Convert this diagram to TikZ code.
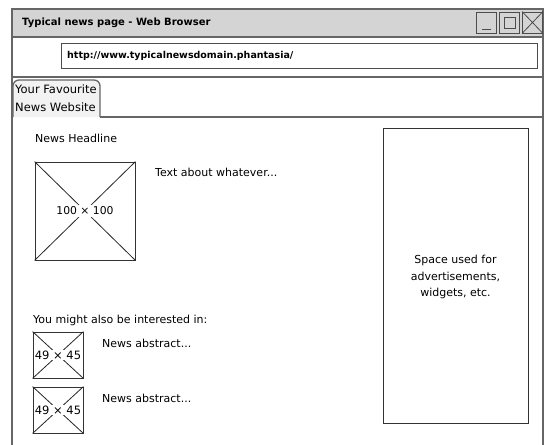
\documentclass[tikz,border=0pt]{standalone}
\usepackage{fontspec}
\setmainfont{DejaVu Sans}
\begin{document}
\begin{tikzpicture}[x=1pt,y=-1pt,
  frame/.style={draw=black!60, line width=1.3pt},
  box/.style={draw=black!80, line width=0.9pt},
  cross/.style={draw=black!85, line width=0.8pt},
  txt/.style={anchor=west, inner sep=0pt, font=\fontsize{11}{13}\selectfont},
  btn/.style={draw=black!70, line width=0.9pt, minimum width=20pt, minimum height=21pt, inner sep=0pt}]
\useasboundingbox (0,0) rectangle (547,445);
\fill[white] (0,0) rectangle (547,445);
% title bar
\fill[black!17] (12,9) rectangle (543,37);
\draw[frame] (12,445) -- (12,9) -- (543,9) -- (543,445);
\draw[frame] (12,37) -- (543,37);
\node[txt, font=\fontsize{10}{12}\bfseries] (title) at (22,23) {Typical news page - Web Browser};
% window buttons
\node[btn] (bmin) at (486.5,22.5) {};
\node[btn] (bmax) at (509.5,22.5) {};
\node[btn] (bclose) at (532.5,22.5) {};
\draw[black!70, line width=1pt] ([shift={(6pt,4pt)}]bmin.south west) -- ([shift={(-6pt,4pt)}]bmin.south east);
\node[draw=black!70, line width=0.9pt, minimum width=11pt, minimum height=11pt, inner sep=0pt] (bmaxin) at (bmax.center) {};
\draw[black!70, line width=0.8pt] (bclose.north west) -- (bclose.south east);
\draw[black!70, line width=0.8pt] (bclose.north east) -- (bclose.south west);
% url bar
\node[draw=black!70, line width=1pt, minimum width=476pt, minimum height=25pt, inner sep=0pt] (url) at (299,55.5) {};
\node[txt, font=\fontsize{9.5}{11}\bfseries] (urltext) at (67,55.5) {http://www.typicalnewsdomain.phantasia/};
\draw[frame] (12,77) -- (543,77);
% tab
\draw[frame, fill=black!5, rounded corners=6pt] (13,117) -- (13,80) -- (100,80) -- (100,117);
\draw[frame] (100,117) -- (543,117);
\node[txt, font=\fontsize{11.5}{13}\selectfont] (tab1) at (15,89) {Your Favourite};
\node[txt, font=\fontsize{11.5}{13}\selectfont] (tab2) at (15,107) {News Website};
% headline
\node[txt] (head) at (35,138) {News Headline};
\node[box, minimum width=100pt, minimum height=98pt, inner sep=0pt] (img) at (85,211) {};
\draw[cross] (img.north west) -- (img.south east);
\draw[cross] (img.north east) -- (img.south west);
\node[fill=white, inner sep=2pt, font=\fontsize{10.8}{12}\selectfont] (imgtext) at (img.center) {100 × 100};
\node[txt] (about) at (155,172) {Text about whatever...};
% interested
\node[txt] (also) at (33,320) {You might also be interested in:};
\node[box, minimum width=50pt, minimum height=46pt, inner sep=0pt] (s1) at (58,355) {};
\draw[cross] (s1.north west) -- (s1.south east);
\draw[cross] (s1.north east) -- (s1.south west);
\node[fill=white, inner sep=1pt, font=\fontsize{11.5}{12}\selectfont] (s1text) at (s1.center) {49 × 45};
\node[txt] (abs1) at (102,343) {News abstract...};
\node[box, minimum width=50pt, minimum height=46pt, inner sep=0pt] (s2) at (58,410) {};
\draw[cross] (s2.north west) -- (s2.south east);
\draw[cross] (s2.north east) -- (s2.south west);
\node[fill=white, inner sep=1pt, font=\fontsize{11.5}{12}\selectfont] (s2text) at (s2.center) {49 × 45};
\node[txt] (abs2) at (102,398) {News abstract...};
% ad space
\node[box, minimum width=145pt, minimum height=295pt, inner sep=0pt] (ad) at (455.5,275.5) {};
\node[align=center, inner sep=0pt, font=\fontsize{11}{16.5}\selectfont] (adtext) at (455.5,277) {Space used for\\advertisements,\\widgets, etc.};
\end{tikzpicture}
\end{document}
